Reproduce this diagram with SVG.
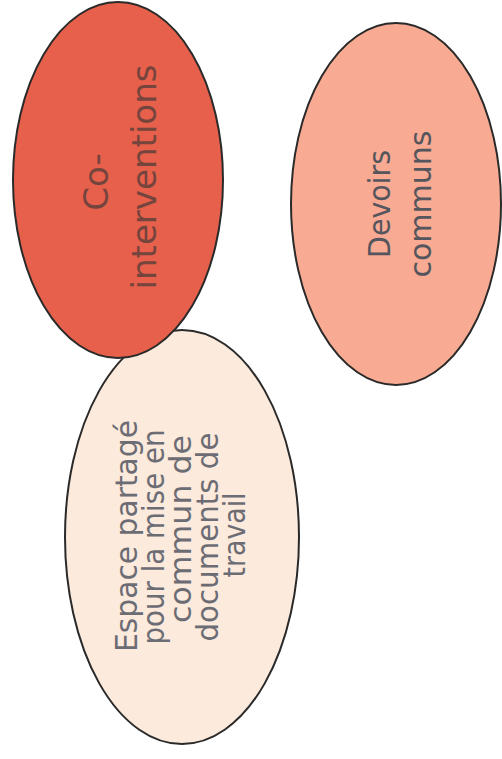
<svg xmlns="http://www.w3.org/2000/svg" width="502" height="759" viewBox="0 0 502 759">
<style>
.node ellipse { stroke: #2a2a2a; stroke-width: 2; }
.lbl { font-family: "DejaVu Sans", "Liberation Sans", sans-serif; text-anchor: middle; }
</style>
<rect width="502" height="759" fill="#ffffff"/>
<g id="connectors"></g>
<g id="node-devoirs" class="node">
  <ellipse cx="396" cy="204" rx="105" ry="181" fill="#F8AA92"/>
  <g transform="rotate(-90)">
    <text class="lbl" x="-204" y="390" font-size="30" fill="#55555d" textLength="108" lengthAdjust="spacingAndGlyphs">Devoirs</text>
    <text class="lbl" x="-204" y="431" font-size="30" fill="#55555d" textLength="147" lengthAdjust="spacingAndGlyphs">communs</text>
  </g>
</g>
<g id="node-espace" class="node">
  <ellipse cx="182" cy="537" rx="117" ry="207" fill="#FCEADC"/>
  <g transform="rotate(-90)" font-size="31" fill="#6c6c74">
    <text class="lbl" x="-536" y="137" textLength="232" lengthAdjust="spacingAndGlyphs">Espace partagé</text>
    <text class="lbl" x="-537" y="164" textLength="215" lengthAdjust="spacingAndGlyphs">pour la mise en</text>
    <text class="lbl" x="-529" y="191" textLength="188" lengthAdjust="spacingAndGlyphs">commun de</text>
    <text class="lbl" x="-537" y="218" textLength="209" lengthAdjust="spacingAndGlyphs">documents de</text>
    <text class="lbl" x="-535" y="245" textLength="85" lengthAdjust="spacingAndGlyphs">travail</text>
  </g>
</g>
<g id="node-cointerventions" class="node">
  <ellipse cx="118" cy="180" rx="105" ry="178" fill="#E7604B"/>
  <g transform="rotate(-90)" font-size="34" fill="#74443d">
    <text class="lbl" x="-182" y="108">Co-</text>
    <text class="lbl" x="-177" y="156" textLength="225" lengthAdjust="spacingAndGlyphs">interventions</text>
  </g>
</g>
</svg>
